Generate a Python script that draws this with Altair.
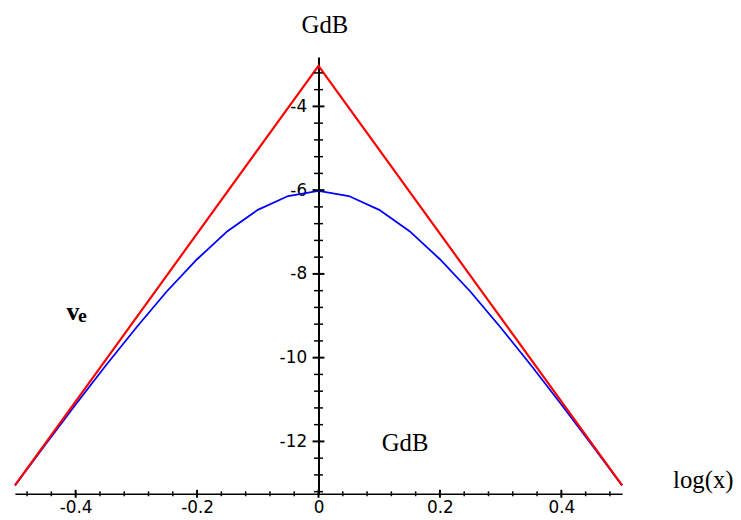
import altair as alt
import pandas as pd

# ---- data ----
log_x = [-0.5, -0.45, -0.4, -0.35, -0.3, -0.25, -0.2, -0.15, -0.1, -0.05, 0.0,
         0.05, 0.1, 0.15, 0.2, 0.25, 0.3, 0.35, 0.4, 0.45, 0.5]
blue_db = [-13.05, -12.08, -11.12, -10.18, -9.28, -8.42, -7.65, -6.98, -6.47, -6.14, -6.02,
           -6.14, -6.47, -6.98, -7.65, -8.42, -9.28, -10.18, -11.12, -12.08, -13.05]
red_x = [-0.5, -0.25, 0.0, 0.25, 0.5]
red_db = [-13.05, -8.04, -3.03, -8.04, -13.05]

x_major = [-0.4, -0.2, 0.0, 0.2, 0.4]
x_minor = [-0.48, -0.44, -0.36, -0.32, -0.28, -0.24, -0.16, -0.12, -0.08, -0.04,
           0.04, 0.08, 0.12, 0.16, 0.24, 0.28, 0.32, 0.36, 0.44, 0.48]
y_major = [-12, -10, -8, -6, -4]
y_minor = [-13.2, -12.8, -12.4, -11.6, -11.2, -10.8, -10.4, -9.6, -9.2, -8.8, -8.4,
           -7.6, -7.2, -6.8, -6.4, -5.6, -5.2, -4.8, -4.4, -3.6, -3.2]

x_domain = [-0.5, 0.5]
y_domain = [-13.25, -2.82]
x_axis_level = -13.25   # y value where the horizontal axis sits
y_axis_level = 0.0      # x value where the vertical axis sits

note_v = ["v"]
note_v_x = [-0.415]
note_v_y = [-9.09]
note_e = ["e"]
note_e_x = [-0.396]
note_e_y = [-9.16]
note_g = ["GdB"]
note_g_x = [0.104]
note_g_y = [-12.24]

W, H = 613, 441
SERIF = "Liberation Serif"
SANS = "DejaVu Sans"

xs = alt.Scale(domain=x_domain, nice=False, zero=False)
ys = alt.Scale(domain=y_domain, nice=False, zero=False)

x_axis = alt.Axis(
    values=x_major, labelExpr="toString(datum.value)", ticks=False, tickSize=0,
    grid=False, domainColor="black", domainWidth=1.5, labelFont=SANS, labelFontSize=17,
    labelColor="black", labelPadding=6, labelFlush=False,
    title="log(x)", titleFont=SERIF, titleFontSize=25, titleFontWeight="normal",
    titleColor="black", titleX=664, titleY=-6, titleAlign="left",
    titleBaseline="alphabetic", titleAngle=0,
)
y_axis = alt.Axis(
    values=y_major, labelExpr="toString(datum.value)", ticks=False, tickSize=0,
    grid=False, domainColor="black", domainWidth=2, labelFont=SANS, labelFontSize=17,
    labelColor="black", labelPadding=12, labelFlush=False, offset=-306.5,
    title="GdB", titleFont=SERIF, titleFontSize=25, titleFontWeight="normal",
    titleColor="black", titleX=6, titleY=-25, titleAlign="center",
    titleBaseline="alphabetic", titleAngle=0,
)

X = alt.X("x:Q", scale=xs, axis=x_axis, title="log(x)")
Y = alt.Y("y:Q", scale=ys, axis=y_axis, title="GdB")

blue = alt.Chart(pd.DataFrame({"x": log_x, "y": blue_db})).mark_line(
    color="#0000ff", strokeWidth=1.8).encode(x=X, y=Y)
red = alt.Chart(pd.DataFrame({"x": red_x, "y": red_db})).mark_line(
    color="#ff0000", strokeWidth=2.2).encode(x=X, y=Y)

def ticks(xv, yv, orient, size, thick):
    df = pd.DataFrame({"x": xv, "y": yv})
    return alt.Chart(df).mark_tick(orient=orient, size=size, thickness=thick,
                                   color="black", opacity=1).encode(x=X, y=Y)

xt_major = ticks(x_major, [x_axis_level] * len(x_major), "vertical", 8, 2)
xt_minor = ticks(x_minor, [x_axis_level] * len(x_minor), "vertical", 5, 1.5)
yt_major = ticks([y_axis_level] * len(y_major), y_major, "horizontal", 12, 2)
yt_minor = ticks([y_axis_level] * len(y_minor), y_minor, "horizontal", 9, 1.5)

def note(txt, xv, yv, size, weight):
    df = pd.DataFrame({"t": txt, "x": xv, "y": yv})
    return alt.Chart(df).mark_text(
        font=SERIF, fontSize=size, fontWeight=weight, color="black",
        align="left", baseline="alphabetic",
    ).encode(x=X, y=Y, text="t:N")

n_v = note(note_v, note_v_x, note_v_y, 26, "bold")
n_e = note(note_e, note_e_x, note_e_y, 20, "bold")
n_g = note(note_g, note_g_x, note_g_y, 25, "normal")

chart = alt.layer(
    blue, red, xt_minor, xt_major, yt_minor, yt_major, n_v, n_e, n_g
).properties(
    width=W, height=H,
    autosize=alt.AutoSizeParams(type="none"),
    padding={"left": 7, "top": 47, "right": 112, "bottom": 20},
    background="white",
).configure_view(stroke=None)

chart.save("out.html", embed_options={"renderer": "svg", "actions": False})
